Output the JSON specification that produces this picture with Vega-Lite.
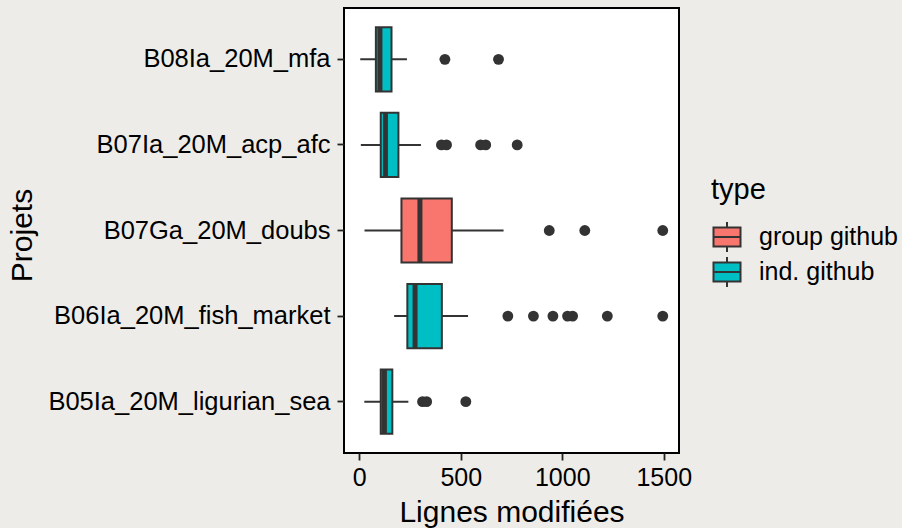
{
  "$schema": "https://vega.github.io/schema/vega-lite/v6.json",
  "width": 335,
  "height": 445,
  "autosize": {"type": "none"},
  "padding": {"left": 344, "top": 8, "right": 223, "bottom": 75},
  "background": "#eeece9",
  "config": {
    "font": "Liberation Sans",
    "view": {"fill": "white", "stroke": "black", "strokeWidth": 2}
  },
  "datasets": {
    "boxes": [
      {"projet": "B08Ia_20M_mfa", "type": "ind. github", "lower": 5, "q1": 82, "median": 102, "q3": 159, "upper": 235},
      {"projet": "B07Ia_20M_acp_afc", "type": "ind. github", "lower": 8, "q1": 106, "median": 129, "q3": 193, "upper": 304},
      {"projet": "B07Ga_20M_doubs", "type": "group github", "lower": 26, "q1": 208, "median": 299, "q3": 456, "upper": 711},
      {"projet": "B06Ia_20M_fish_market", "type": "ind. github", "lower": 172, "q1": 237, "median": 275, "q3": 407, "upper": 536},
      {"projet": "B05Ia_20M_ligurian_sea", "type": "ind. github", "lower": 25, "q1": 106, "median": 124, "q3": 163, "upper": 242}
    ],
    "outliers": [
      {"projet": "B08Ia_20M_mfa", "value": 422},
      {"projet": "B08Ia_20M_mfa", "value": 686},
      {"projet": "B07Ia_20M_acp_afc", "value": 405},
      {"projet": "B07Ia_20M_acp_afc", "value": 430},
      {"projet": "B07Ia_20M_acp_afc", "value": 598},
      {"projet": "B07Ia_20M_acp_afc", "value": 623},
      {"projet": "B07Ia_20M_acp_afc", "value": 778},
      {"projet": "B07Ga_20M_doubs", "value": 936},
      {"projet": "B07Ga_20M_doubs", "value": 1111},
      {"projet": "B07Ga_20M_doubs", "value": 1495},
      {"projet": "B06Ia_20M_fish_market", "value": 732},
      {"projet": "B06Ia_20M_fish_market", "value": 858},
      {"projet": "B06Ia_20M_fish_market", "value": 954},
      {"projet": "B06Ia_20M_fish_market", "value": 1026},
      {"projet": "B06Ia_20M_fish_market", "value": 1051},
      {"projet": "B06Ia_20M_fish_market", "value": 1222},
      {"projet": "B06Ia_20M_fish_market", "value": 1495},
      {"projet": "B05Ia_20M_ligurian_sea", "value": 312},
      {"projet": "B05Ia_20M_ligurian_sea", "value": 332},
      {"projet": "B05Ia_20M_ligurian_sea", "value": 525}
    ]
  },
  "encoding": {
    "y": {
      "field": "projet",
      "type": "nominal",
      "scale": {
        "domain": ["B08Ia_20M_mfa", "B07Ia_20M_acp_afc", "B07Ga_20M_doubs", "B06Ia_20M_fish_market", "B05Ia_20M_ligurian_sea"],
        "paddingInner": 0,
        "paddingOuter": 0.1
      },
      "axis": {
        "title": "Projets",
        "titleFontSize": 30,
        "titleFontWeight": "normal",
        "titleColor": "black",
        "titleAngle": -90,
        "titleAlign": "center",
        "titleBaseline": "alphabetic",
        "titleX": -313,
        "titleY": 227,
        "labelFontSize": 25.5,
        "labelColor": "black",
        "labelLimit": 0,
        "labelPadding": 7,
        "tickSize": 7,
        "tickWidth": 1.8,
        "tickColor": "#222222",
        "domain": false,
        "grid": false
      }
    }
  },
  "layer": [
    {
      "data": {"name": "boxes"},
      "mark": {"type": "rule", "color": "#333333", "strokeWidth": 2},
      "encoding": {
        "x": {
          "field": "lower",
          "type": "quantitative",
          "scale": {"domain": [-75, 1575], "nice": false, "zero": false},
          "axis": {
            "title": "Lignes modifiées",
            "titleFontSize": 30,
            "titleFontWeight": "normal",
            "titleColor": "black",
            "titleBaseline": "alphabetic",
            "titleY": 68.7,
            "values": [0, 500, 1000, 1500],
            "format": "d",
            "labelFontSize": 25,
            "labelColor": "black",
            "labelPadding": 5,
            "tickSize": 7,
            "tickWidth": 1.8,
            "tickColor": "#222222",
            "domain": false,
            "grid": false
          }
        },
        "x2": {"field": "upper"}
      }
    },
    {
      "data": {"name": "boxes"},
      "mark": {"type": "bar", "stroke": "#333333", "strokeWidth": 2, "height": {"band": 0.75}, "fillOpacity": 1},
      "encoding": {
        "x": {"field": "q1", "type": "quantitative"},
        "x2": {"field": "q3"},
        "fill": {
          "field": "type",
          "type": "nominal",
          "scale": {"domain": ["group github", "ind. github"], "range": ["#F8766D", "#00BFC4"]},
          "legend": {
            "title": "type",
            "orient": "none",
            "legendX": 367,
            "legendY": 168,
            "padding": 0,
            "titleFontSize": 29,
            "titleFontWeight": "normal",
            "titleColor": "black",
            "titlePadding": 16,
            "labelFontSize": 25,
            "labelColor": "black",
            "labelOffset": 16,
            "rowPadding": -4,
            "symbolType": "M-0.9,-0.63H0.9V0.63H-0.9ZM-0.9,0H0.9M0,-1V-0.63M0,0.63V1",
            "symbolSize": 900,
            "symbolStrokeColor": "#333333",
            "symbolStrokeWidth": 2,
            "symbolFillOpacity": 1
          }
        }
      }
    },
    {
      "data": {"name": "boxes"},
      "mark": {"type": "tick", "orient": "vertical", "color": "#333333", "thickness": 5, "size": 64, "opacity": 1},
      "encoding": {
        "x": {"field": "median", "type": "quantitative"}
      }
    },
    {
      "data": {"name": "outliers"},
      "mark": {"type": "circle", "color": "#333333", "size": 118, "opacity": 1},
      "encoding": {
        "x": {"field": "value", "type": "quantitative"}
      }
    }
  ]
}
